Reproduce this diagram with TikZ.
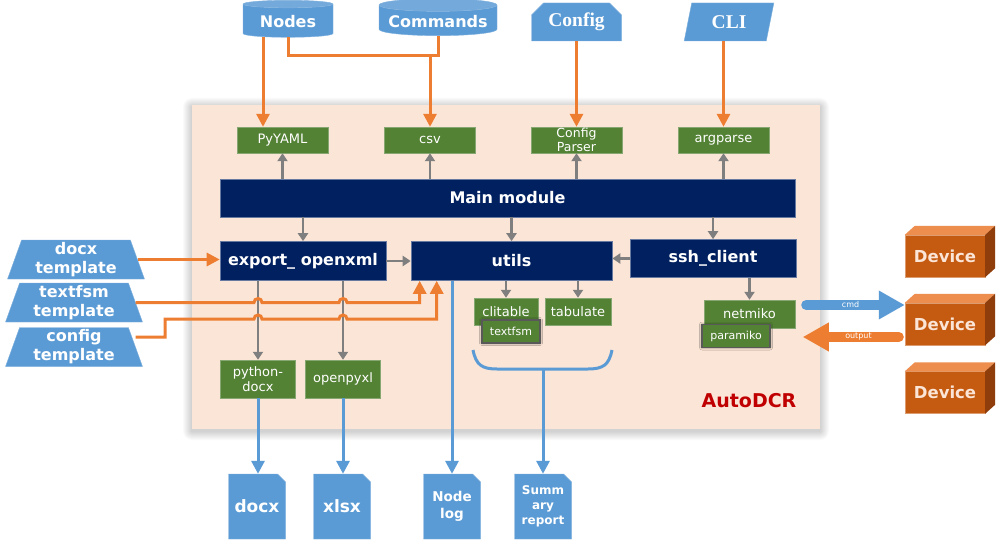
\documentclass[tikz,border=0pt]{standalone}
\usepackage{fontspec}
\setmainfont{DejaVu Sans}
\newfontfamily\seriffont{Liberation Serif}
\usetikzlibrary{shapes.geometric, shapes.misc, arrows.meta, shadows.blur}

\definecolor{fblue}{HTML}{5B9BD5}
\definecolor{forange}{HTML}{ED7D31}
\definecolor{fgreen}{HTML}{548235}
\definecolor{fnavy}{HTML}{002060}
\definecolor{fpeach}{HTML}{FBE5D6}
\definecolor{fgray}{HTML}{7F7F7F}
\definecolor{fdev}{HTML}{C55A11}
\definecolor{fdevtop}{HTML}{EE8E4E}
\definecolor{fdevside}{HTML}{8E3D0B}
\definecolor{fred}{HTML}{C00000}

\begin{document}
\begin{tikzpicture}[x=1pt, y=-1pt,
  ctl/.style={draw=fgray, line width=2.5, -{Triangle[width=10pt,length=8pt]}},
  feed/.style={draw=forange, line width=3, -{Triangle[width=13pt,length=13pt]}},
  feedline/.style={draw=forange, line width=3},
  outp/.style={draw=fblue, line width=3, -{Triangle[width=13pt,length=13pt]}},
  outline/.style={draw=fblue, line width=3}]

  \fill[white] (0,0) rectangle (1006,548);
  \useasboundingbox (0,0) rectangle (1006,548);

  % Fondo de la aplicacion (con sombra suave)
  \foreach \i in {1,...,9}
    \fill[black, opacity=0.018, rounded corners=\i] (192-\i,105-\i+2) rectangle (820+\i,429+\i+2);
  \node[rectangle, fill=fpeach, minimum width=628, minimum height=324] (panel) at (506,267) {};

  % Entradas (arriba)
  \begin{scope}[every node/.style={cylinder, shape border rotate=90, aspect=0.12,
      cylinder uses custom fill, cylinder body fill=fblue, cylinder end fill=fblue!85!white,
      draw=fblue!80!white, minimum height=37, text=white,
      font=\bfseries\fontsize{16}{16}\selectfont}]
    \node[minimum width=90] (nodesdb) at (288,21.5) {Nodes};
    \node[minimum width=118] (cmdsdb) at (438,21.5) {Commands};
  \end{scope}

  \begin{scope}[every node/.style={fill=fblue, draw=fblue!80!white, text=white,
      minimum width=90, minimum height=38, inner sep=0,
      font=\seriffont\bfseries\fontsize{19.5}{19.5}\selectfont}]
    \node[chamfered rectangle, chamfered rectangle corners={north west,north east},
      chamfered rectangle xsep=6, chamfered rectangle ysep=6] (cfgfile) at (576.5,22) {Config};
    \node[trapezium, trapezium left angle=75, trapezium right angle=105,
      trapezium stretches=true] (cli) at (729,22) {CLI};
  \end{scope}

  % Plantillas (izquierda)
  \begin{scope}[every node/.style={trapezium, trapezium left angle=73, trapezium right angle=73,
      trapezium stretches=true, fill=fblue, draw=fblue!80!white, text=white, align=center,
      minimum width=137, minimum height=39, inner sep=0,
      font=\bfseries\fontsize{16}{19}\selectfont}]
    \node (docxtpl) at (76,259.5) {docx\\template};
    \node (tfsmtpl) at (74,302.5) {textfsm\\template};
    \node (cfgtpl) at (74,347) {config\\template};
  \end{scope}

  % Modulos (azul oscuro)
  \begin{scope}[every node/.style={rectangle, fill=fnavy, draw=fnavy!60!white, line width=0.6,
      text=white, minimum height=38, font=\bfseries\fontsize{16}{16}\selectfont}]
    \node[minimum width=575] (main) at (507.5,198) {Main module};
    \node[minimum width=166, minimum height=39] (export) at (303,261) {export\_ openxml};
    \node[minimum width=201, minimum height=39] (utils) at (511.5,261) {utils};
    \node[minimum width=166] (ssh) at (713,258.5) {ssh\_client};
  \end{scope}

  % Librerias (verde)
  \begin{scope}[every node/.style={rectangle, fill=fgreen, draw=fgreen!70!white, text=white,
      minimum height=26, align=center, inner sep=1,
      font=\fontsize{13}{14.5}\selectfont}]
    \node[minimum width=91] (pyyaml) at (282.5,140) {PyYAML};
    \node[minimum width=91] (csv) at (430,140) {csv};
    \node[minimum width=91, inner sep=0, font=\fontsize{12.5}{13.5}\selectfont] (cfgparser) at (576.5,140) {Config\\Parser};
    \node[minimum width=91] (argparse) at (723.5,140) {argparse};
    \node[minimum width=75, minimum height=38] (pydocx) at (258,379) {python-\\docx};
    \node[minimum width=75, minimum height=38] (openpyxl) at (343,379) {openpyxl};
    \node[minimum width=64, minimum height=27] (clitable) at (506,311.5) {clitable};
    \node[minimum width=66, minimum height=27] (tabulate) at (578,311.5) {tabulate};
    \node[minimum width=91, minimum height=28] (netmiko) at (749.5,314) {netmiko};
  \end{scope}

  \begin{scope}[every node/.style={rectangle, fill=fgreen, draw=black!65, line width=1.5,
      text=white, minimum height=23, font=\fontsize{11}{12}\selectfont,
      blur shadow={shadow xshift=0pt, shadow yshift=0pt, shadow blur radius=2.5pt, shadow opacity=60}}]
    \node[minimum width=58] (textfsm) at (511,331.5) {textfsm};
    \node[minimum width=68] (paramiko) at (736,336) {paramiko};
  \end{scope}

  % Salidas (abajo)
  \begin{scope}[every node/.style={chamfered rectangle, chamfered rectangle corners=north east,
      chamfered rectangle xsep=4, chamfered rectangle ysep=4, fill=fblue, draw=fblue!80!white,
      text=white, align=center, minimum width=57, minimum height=65, inner sep=0,
      font=\bfseries\fontsize{17}{17}\selectfont}]
    \node (docxfile) at (257,506.5) {docx};
    \node (xlsxfile) at (342,506.5) {xlsx};
    \node[font=\bfseries\fontsize{13.5}{17}\selectfont] (nodelog) at (452,506.5) {Node\\log};
    \node[font=\bfseries\fontsize{12}{15}\selectfont] (summary) at (543,506.5) {Summ\\ary\\report};
  \end{scope}

  % Equipos
  \begin{scope}[every node/.style={rectangle, fill=fdev, draw=fdev!60!white, minimum width=80,
      minimum height=42, text=fpeach, font=\bfseries\fontsize{16.5}{16.5}\selectfont}]
    \node (dev1) at (945,256) {Device};
    \node (dev2) at (945,324) {Device};
    \node (dev3) at (945,392.5) {Device};
  \end{scope}
  \foreach \d in {dev1,dev2,dev3} {
    \fill[fdevtop] (\d.north west) -- ++(10,-9) -- ([shift={(10,-9)}]\d.north east) -- (\d.north east) -- cycle;
    \fill[fdevside] (\d.north east) -- ++(10,-9) -- ([shift={(10,-9)}]\d.south east) -- (\d.south east) -- cycle;
  }

  \node[text=fred, font=\bfseries\fontsize{19}{19}\selectfont] (title) at (749,401) {AutoDCR};

  % Flechas grises
  \foreach \b in {pyyaml,csv,cfgparser,argparse}
    \draw[ctl] (main.north -| \b.south) -- (\b.south);
  \draw[ctl] (main.south -| export.north) -- (export.north);
  \draw[ctl] (main.south -| utils.north) -- (utils.north);
  \draw[ctl] (main.south -| ssh.north) -- (ssh.north);
  \draw[ctl] (export.east) -- (utils.west);
  \draw[ctl] (ssh.west) -- (ssh.west -| utils.east);
  \draw[ctl] (export.south -| pydocx.north) -- (pydocx.north);
  \draw[ctl] (export.south -| openpyxl.north) -- (openpyxl.north);
  \draw[ctl] (utils.south -| clitable.north) -- (clitable.north);
  \draw[ctl] (utils.south -| tabulate.north) -- (tabulate.north);
  \draw[ctl] (ssh.south -| netmiko.north) -- (netmiko.north);

  % Flechas naranjas
  \coordinate (join) at (430,56);
  \draw[feed] ([xshift=-25]nodesdb.south) -- ([xshift=-25]nodesdb.south |- pyyaml.north);
  \draw[feedline] (nodesdb.south) |- (join) -| (cmdsdb.south);
  \draw[feed] (join) -- (csv.north);
  \draw[feed] (cfgfile.south) -- (cfgparser.north);
  \draw[feed] (cli.south -| argparse.north) -- (argparse.north);
  \draw[feed] (docxtpl.east) -- (docxtpl.east -| export.west);
  \draw[feed] (tfsmtpl.east) -- (254,302.5) arc[start angle=180, end angle=360, radius=4]
    -- (339,302.5) arc[start angle=180, end angle=360, radius=4] -| ([xshift=9]utils.south west);
  \draw[feed] ([yshift=10]cfgtpl.east) -- (165,337) |- (254,319) arc[start angle=180, end angle=360, radius=4]
    -- (339,319) arc[start angle=180, end angle=360, radius=4] -| ([xshift=26]utils.south west);

  % Flechas azules
  \draw[outp] (pydocx.south) -- (pydocx.south |- docxfile.north);
  \draw[outp] (openpyxl.south) -- (openpyxl.south |- xlsxfile.north);
  \draw[outp] (utils.south -| nodelog.north) -- (nodelog.north);
  \draw[outline] (473,350) .. controls (476,365) and (482,369) .. (497,369) -- (588,369)
    .. controls (603,369) and (609,365) .. (612,350);
  \coordinate (brace) at (543,369);
  \draw[outp] (brace) -- (summary.north);

  % cmd / output
  \draw[draw=fblue, line width=10, line cap=round, -{Triangle[width=27pt,length=26pt]}]
    ([xshift=11,yshift=9]netmiko.east) -- ([yshift=19]dev2.west)
    node[pos=0.45, text=white, font=\fontsize{8}{8}\selectfont] (cmdlbl) {cmd};
  \draw[draw=forange, line width=10, line cap=round, -{Triangle[width=27pt,length=26pt]}]
    ([xshift=-6,yshift=-13]dev2.west) -- ([xshift=32,yshift=-1]paramiko.east)
    node[pos=0.42, text=white, font=\fontsize{8}{8}\selectfont] (outlbl) {output};

\end{tikzpicture}
\end{document}
